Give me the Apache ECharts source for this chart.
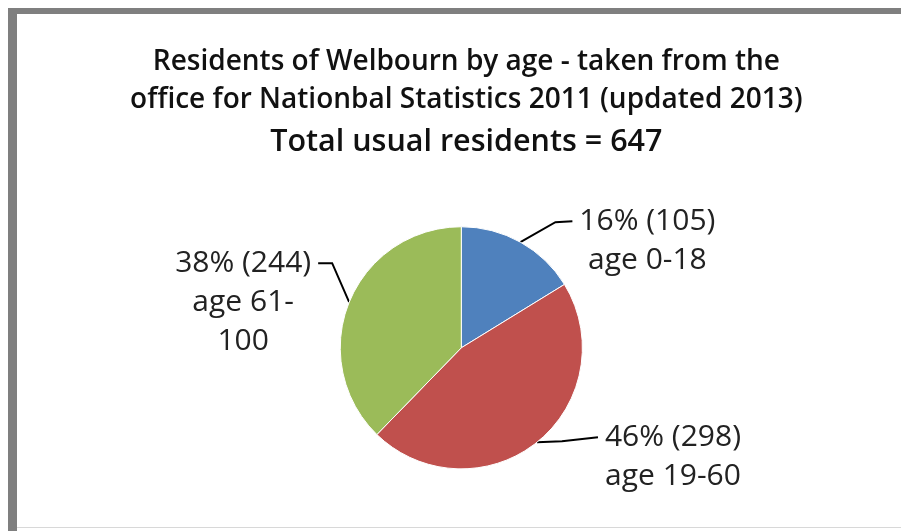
<!DOCTYPE html>
<html><head><meta charset="utf-8">
<script src="https://cdn.jsdelivr.net/npm/echarts@6/dist/echarts.min.js"></script>
<style>html,body{margin:0;padding:0;background:#fff}#c{width:901px;height:531px}</style>
</head><body><div id="c"></div>
<script>
const categories = ['age 0-18', 'age 19-60', 'age 61-100'];
const labelNames = ['age 0-18', 'age 19-60', 'age 61-\n100'];
const values = [105, 298, 244];
const colors = ['#4F81BD', '#C0504D', '#9BBB59'];
const titleLines = ['Residents of Welbourn by age - taken from the', 'office for Nationbal Statistics 2011 (updated 2013)'];
const subtitle = 'Total usual residents = 647';

// label line bend/end offsets relative to the slice edge point
const lineBend = [[35, -20], [25, -1], [-17, -39]];
const lineEnd = [[52, -21], [61, -5], [-31, -39]];
const LH = 39;

const chart = echarts.init(document.getElementById('c'), null, {renderer: 'canvas'});
chart.setOption({
  backgroundColor: '#fff',
  animation: false,
  graphic: [
    {type: 'rect', shape: {x: 8, y: 8, width: 893, height: 6}, style: {fill: '#7f7f7f'}},
    {type: 'rect', shape: {x: 8, y: 8, width: 9, height: 523}, style: {fill: '#7f7f7f'}},
    {type: 'rect', shape: {x: 17, y: 527, width: 884, height: 1}, style: {fill: '#d8d8d8'}}
  ],
  title: {
    left: '51.2%',
    textAlign: 'center',
    top: 38,
    text: titleLines.map(t => '{a|' + t + '}').join('\n') + '\n{b|' + subtitle + '}',
    textStyle: {
      rich: {
        a: {fontFamily: 'Open Sans', fontWeight: 600, fontSize: 28, lineHeight: 38, color: '#111'},
        b: {fontFamily: 'Open Sans', fontWeight: 600, fontSize: 30.5, lineHeight: 46, color: '#111'}
      }
    }
  },
  series: [{
    type: 'pie',
    center: ['51.2%', '65.5%'],
    radius: '45.6%',
    startAngle: 90,
    clockwise: true,
    avoidLabelOverlap: false,
    percentPrecision: 0,
    data: categories.map((n, i) => ({name: n, value: values[i], itemStyle: {color: colors[i]}})),
    itemStyle: {borderColor: '#fff', borderWidth: 1},
    label: {
      show: true,
      position: 'outside',
      formatter: p => '{t|' + p.percent + '% (' + p.value + ')}\n' + labelNames[p.dataIndex].split('\n').map(s => '{t|' + s + '}').join('\n'),
      rich: {
        t: {fontFamily: 'Open Sans', fontSize: 30, lineHeight: LH, color: '#222', width: 140, align: 'center'}
      }
    },
    labelLine: {show: true, lineStyle: {color: '#000', width: 2}},
    labelLayout: function (params) {
      const i = params.dataIndex;
      const p0 = params.labelLinePoints[0];
      const p1 = [p0[0] + lineBend[i][0], p0[1] + lineBend[i][1]];
      const p2 = [p0[0] + lineEnd[i][0], p0[1] + lineEnd[i][1]];
      const right = lineEnd[i][0] > 0;
      return {
        x: right ? p2[0] + 5 : p2[0] - 5,
        y: p2[1] - LH / 2,
        align: right ? 'left' : 'right',
        verticalAlign: 'top',
        labelLinePoints: [p0, p1, p2]
      };
    }
  }]
});
</script></body></html>
